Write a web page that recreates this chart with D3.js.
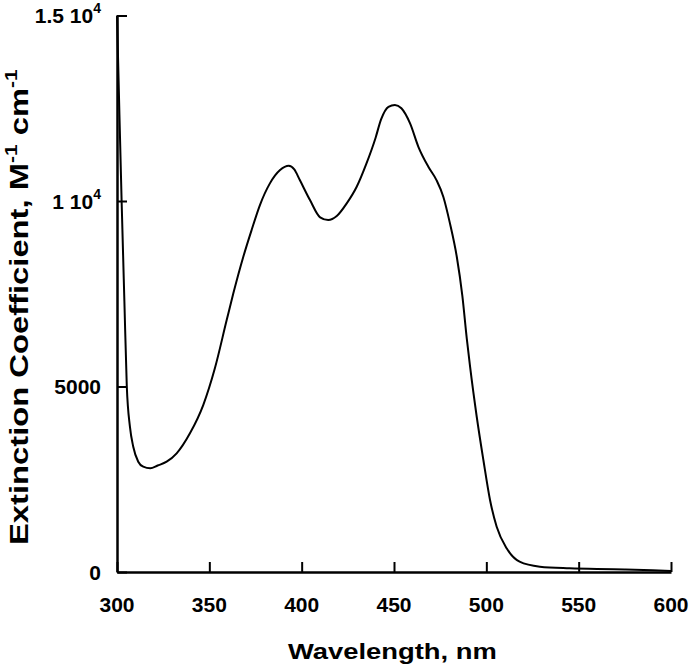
<!DOCTYPE html>
<html>
<head>
<meta charset="utf-8">
<script src="https://cdn.jsdelivr.net/npm/d3@7"></script>
<style>
  html, body { margin: 0; padding: 0; background: #fff; }
  svg { display: block; }
  text { font-family: "Liberation Sans", Arial, sans-serif; font-weight: bold; fill: #000; }
</style>
</head>
<body>
<svg id="chart" width="693" height="671"></svg>
<script>
// Data
const wavelength = [300, 301.2, 302.5, 304, 305.3, 307, 308.8, 311.5, 314.2, 318, 322, 326.9, 332.3, 339.5, 346.7,
  353, 359.4, 363, 368.4, 372.9, 377.4, 382.8, 388.3, 393, 396, 399, 404.5, 410, 414.4, 419, 424.4,
  429.8, 435, 440, 443, 447, 450.5, 454, 458.7, 463.2, 468.6, 473, 476.7, 480.3, 484, 487, 489.4,
  491.2, 494.8, 498.4, 502, 505.6, 511, 518, 529, 545, 560, 575, 590, 600];
const extinction = [15000, 12560, 10000, 7300, 5013, 3916, 3377, 2973, 2838, 2795, 2870, 2973, 3198, 3738, 4500,
  5490, 6791, 7511, 8497, 9217, 9891, 10475, 10834, 10950, 10850, 10564, 10025, 9559, 9486, 9594, 9936,
  10384, 11000, 11700, 12200, 12540, 12590, 12500, 12092, 11462, 10923, 10564, 10115, 9397, 8497, 7450, 6298,
  5533, 4185, 3018, 1940, 1221, 639, 278, 143, 100, 80, 70, 50, 30];
const xTicks = [300, 350, 400, 450, 500, 550, 600];
const xTickLabels = ["300", "350", "400", "450", "500", "550", "600"];
const yTicks = [0, 5000, 10000, 15000];
const yTickLabels = [["0", ""], ["5000", ""], ["1 10", "4"], ["1.5 10", "4"]];
const xTitle = "Wavelength, nm";

const svg = d3.select("#chart");
const x = d3.scaleLinear().domain([300, 600]).range([117, 671]);
const y = d3.scaleLinear().domain([0, 15000]).range([572, 15.5]);

// Curve
const line = d3.line()
  .x((d, i) => x(wavelength[i]))
  .y((d, i) => y(extinction[i]))
  .curve(d3.curveMonotoneX);
svg.append("path")
  .datum(extinction)
  .attr("d", line)
  .attr("fill", "none")
  .attr("stroke", "#000")
  .attr("stroke-width", 2)
  .attr("stroke-linejoin", "round");

// Axes
const xAxis = d3.axisBottom(x).tickValues(xTicks).tickSizeInner(-10).tickSizeOuter(0).tickFormat("");
const gx = svg.append("g").attr("transform", `translate(0,${y(0)})`).call(xAxis);
const yAxis = d3.axisLeft(y).tickValues(yTicks).tickSizeInner(-10).tickSizeOuter(0).tickFormat("");
const gy = svg.append("g").attr("transform", `translate(${x(300)},0)`).call(yAxis);
[gx, gy].forEach(g => {
  g.selectAll("path.domain").attr("stroke", "#000").attr("stroke-width", 2.5);
  g.selectAll(".tick line").attr("stroke", "#000").attr("stroke-width", 2);
});

// X tick labels
svg.append("g").selectAll("text")
  .data(xTicks)
  .join("text")
  .attr("x", d => x(d))
  .attr("y", 612)
  .attr("text-anchor", "middle")
  .attr("font-size", 21)
  .text((d, i) => xTickLabels[i]);

// Y tick labels
const yl = svg.append("g").selectAll("text")
  .data(yTicks)
  .join("text")
  .attr("x", 101)
  .attr("y", d => y(d) + 7.5)
  .attr("text-anchor", "end")
  .attr("font-size", 21);
yl.each(function(d, i) {
  const t = d3.select(this);
  const [main, sup] = yTickLabels[i];
  t.append("tspan").text(main);
  if (sup) t.append("tspan").attr("font-size", 14).attr("dy", -10).text(sup);
});

// Axis titles
svg.append("text")
  .attr("transform", "translate(288,659) scale(1.217,1)")
  .attr("text-anchor", "start")
  .attr("font-size", 22.5)
  .text(xTitle);

const yt = svg.append("text")
  .attr("transform", "translate(28,545) rotate(-90) scale(1.31,1)")
  .attr("text-anchor", "start")
  .attr("font-size", 25);
yt.append("tspan").text("Extinction Coefficient, M");
yt.append("tspan").attr("font-size", 16).attr("dy", -11).text("-1");
yt.append("tspan").attr("dy", 11).text(" cm");
yt.append("tspan").attr("font-size", 16).attr("dy", -11).text("-1");
</script>
</body>
</html>
